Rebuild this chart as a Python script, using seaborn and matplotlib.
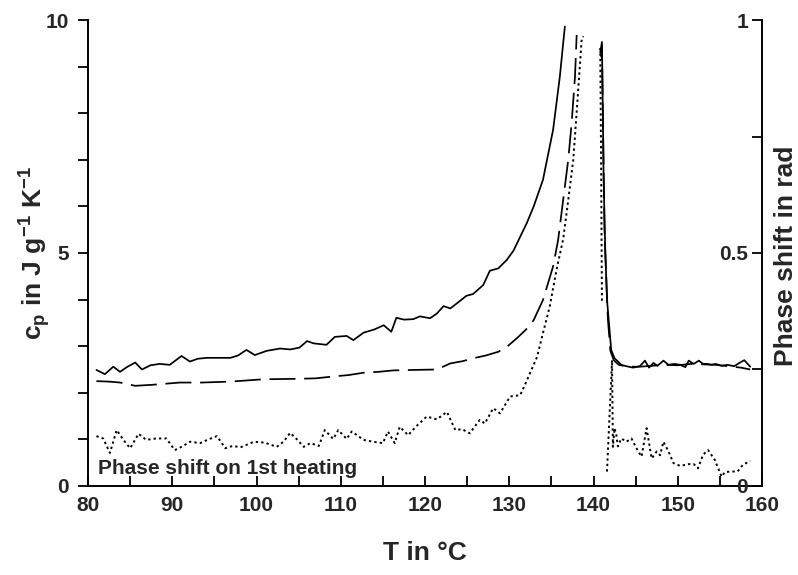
import numpy as np
import pandas as pd
import matplotlib
matplotlib.use("Agg")
import matplotlib.pyplot as plt
import seaborn as sns
from matplotlib.ticker import MultipleLocator, FixedLocator

# ---------------- data ----------------
# c_p, solid curve: rising branch and falling branch after the peak
solid_rise_T = [81.0, 82.0, 83.0, 83.8, 84.6, 85.6, 86.4, 87.4, 88.5, 89.7, 91.1, 92.1,
                93.0, 94.1, 95.5, 96.9, 97.8, 98.8, 99.8, 101.2, 102.8, 104.0, 105.1,
                106.0, 106.8, 108.3, 109.3, 110.7, 111.5, 112.7, 114.0, 115.1, 116.0,
                116.6, 117.5, 118.6, 119.4, 120.6, 121.4, 122.2, 123.0, 124.0, 124.9,
                125.7, 126.9, 127.7, 128.7, 129.7, 130.5, 131.3, 132.1, 132.9, 134.0,
                135.2, 136.0, 136.6]
solid_rise_cp = [2.49, 2.40, 2.56, 2.45, 2.55, 2.65, 2.50, 2.59, 2.62, 2.60, 2.79, 2.67,
                 2.73, 2.75, 2.75, 2.75, 2.80, 2.92, 2.81, 2.90, 2.95, 2.93, 2.97,
                 3.11, 3.06, 3.03, 3.20, 3.22, 3.13, 3.29, 3.36, 3.45, 3.31,
                 3.61, 3.57, 3.58, 3.64, 3.60, 3.70, 3.86, 3.81, 3.95, 4.08,
                 4.12, 4.31, 4.62, 4.67, 4.85, 5.05, 5.35, 5.65, 6.00, 6.57,
                 7.64, 8.78, 9.86]
solid_fall_T = [140.8, 141.0, 141.2, 141.4, 141.6, 141.9, 142.1, 142.5, 142.9, 143.3,
                143.9, 144.7, 145.5, 146.1, 146.6, 147.1, 147.6, 148.3, 148.9, 149.6,
                150.3, 150.9, 151.3, 151.9, 152.5, 153.0, 153.5, 154.0, 154.5, 155.2,
                155.9, 156.7, 157.3, 157.9, 158.6]
solid_fall_cp = [9.30, 9.53, 6.60, 5.00, 4.00, 3.35, 2.92, 2.74, 2.67, 2.60,
                 2.57, 2.54, 2.57, 2.69, 2.54, 2.64, 2.58, 2.69, 2.60, 2.62,
                 2.60, 2.55, 2.69, 2.62, 2.69, 2.62, 2.62, 2.60, 2.62, 2.58,
                 2.60, 2.57, 2.64, 2.70, 2.56]

# c_p, dashed curve
dash_rise_T = [81.0, 82.5, 83.8, 85.6, 87.5, 90.9, 93.5, 96.9, 100.8, 104.8, 107.0,
               109.1, 110.9, 112.7, 114.5, 116.2, 118.5, 121.4, 123.0, 124.5, 125.7,
               127.2, 128.7, 129.8, 130.9, 132.0, 132.9, 134.0, 135.2, 135.8, 136.4,
               137.0, 137.4, 137.8, 138.0]
dash_rise_cp = [2.25, 2.24, 2.22, 2.15, 2.17, 2.22, 2.22, 2.24, 2.29, 2.30, 2.31,
                2.35, 2.38, 2.43, 2.45, 2.48, 2.49, 2.50, 2.63, 2.68, 2.74,
                2.80, 2.88, 3.00, 3.17, 3.36, 3.56, 3.99, 4.71, 5.28, 6.14,
                7.00, 7.78, 8.78, 9.68]
dash_fall_T = [140.9, 141.0, 141.3, 141.7, 142.0, 142.4, 143.0, 144.0, 145.5, 147.0,
               148.5, 150.0, 151.5, 153.0, 154.5, 156.0, 157.5, 158.6]
dash_fall_cp = [9.20, 9.45, 5.50, 3.60, 2.90, 2.70, 2.60, 2.56, 2.56, 2.58,
                2.60, 2.59, 2.62, 2.61, 2.60, 2.57, 2.54, 2.50]

# phase shift (rad), dotted curve, three pieces
phase_rise_T = [81.0, 81.8, 82.6, 83.4, 84.2, 85.0, 86.0, 86.9, 88.1, 89.3, 90.3, 91.2,
                92.1, 93.3, 94.3, 95.3, 96.3, 97.2, 98.1, 99.7, 101.0, 102.4, 103.2,
                104.0, 104.8, 105.6, 106.4, 107.4, 108.1, 109.1, 109.7, 110.7, 111.3,
                112.7, 113.8, 115.0, 115.6, 116.4, 117.0, 118.0, 118.9, 120.2, 121.4,
                122.6, 123.6, 124.4, 125.3, 126.5, 127.1, 128.1, 128.9, 130.1, 131.3,
                132.1, 133.3, 134.0, 134.8, 135.6, 136.4, 136.8, 137.6, 138.1, 138.6,
                138.8]
phase_rise_rad = [0.107, 0.102, 0.071, 0.120, 0.099, 0.081, 0.112, 0.099, 0.102, 0.102,
                  0.077, 0.085, 0.095, 0.092, 0.100, 0.107, 0.081, 0.086, 0.083, 0.095,
                  0.093, 0.084, 0.095, 0.114, 0.100, 0.084, 0.092, 0.086, 0.120, 0.101,
                  0.120, 0.101, 0.117, 0.099, 0.095, 0.092, 0.117, 0.092, 0.127, 0.109,
                  0.127, 0.149, 0.143, 0.159, 0.120, 0.122, 0.113, 0.142, 0.134, 0.167,
                  0.156, 0.192, 0.195, 0.227, 0.277, 0.328, 0.385, 0.463, 0.530, 0.585,
                  0.700, 0.828, 0.960, 0.965]
phase_peak_T = [140.8, 140.9, 141.0]
phase_peak_rad = [0.940, 0.700, 0.396]
phase_fall_T = [141.6, 142.2, 142.3, 142.5, 142.7, 142.9, 143.3, 143.9, 144.5, 145.1,
                145.7, 146.3, 146.9, 147.5, 147.9, 148.3, 148.9, 149.5, 150.3, 151.3,
                151.9, 152.4, 153.0, 153.6, 154.4, 155.2, 155.6, 156.4, 157.1, 157.7,
                158.6]
phase_fall_rad = [0.031, 0.270, 0.084, 0.124, 0.110, 0.085, 0.102, 0.095, 0.102, 0.081,
                  0.063, 0.124, 0.059, 0.074, 0.066, 0.095, 0.074, 0.049, 0.043, 0.047,
                  0.047, 0.038, 0.067, 0.077, 0.056, 0.020, 0.030, 0.031, 0.031, 0.045,
                  0.054]

x_ticks = [80, 90, 100, 110, 120, 130, 140, 150, 160]
cp_ticks = [0, 5, 10]
phase_ticks = [0, 0.5, 1]
phase_tick_labels = ["0", "0.5", "1"]
annotation = "Phase shift on 1st heating"


def frame(Ts, vals, seg):
    return pd.DataFrame({"T": Ts, "v": vals, "seg": seg})


solid_df = pd.concat([frame(solid_rise_T, solid_rise_cp, "a"),
                      frame(solid_fall_T, solid_fall_cp, "b")])
dash_df = pd.concat([frame(dash_rise_T, dash_rise_cp, "a"),
                     frame(dash_fall_T, dash_fall_cp, "b")])
phase_df = pd.concat([frame(phase_rise_T, phase_rise_rad, "a"),
                      frame(phase_peak_T, phase_peak_rad, "b"),
                      frame(phase_fall_T, phase_fall_rad, "c")])

# ---------------- styling ----------------
sns.set_theme(style="white")
plt.rcParams["font.family"] = ["Liberation Sans", "DejaVu Sans"]
plt.rcParams["font.weight"] = "bold"
plt.rcParams["mathtext.fontset"] = "custom"
plt.rcParams["mathtext.rm"] = "Liberation Sans:bold"
plt.rcParams["mathtext.it"] = "Liberation Sans:bold"
plt.rcParams["mathtext.bf"] = "Liberation Sans:bold"
plt.rcParams["axes.linewidth"] = 1.4

fig = plt.figure(figsize=(7.98, 5.75), dpi=100)
ax = fig.add_axes([0.1103, 0.1548, 0.8446, 0.8104])
ax2 = ax.twinx()

lw = 1.25
sns.lineplot(data=solid_df, x="T", y="v", units="seg", estimator=None, sort=False,
             ax=ax, color="black", lw=lw)
sns.lineplot(data=dash_df, x="T", y="v", units="seg", estimator=None, sort=False,
             ax=ax, color="black", lw=lw, dashes=False)
for line in ax.lines[2:]:
    line.set_linestyle((0, (15, 5)))
sns.lineplot(data=phase_df, x="T", y="v", units="seg", estimator=None, sort=False,
             ax=ax2, color="black", lw=1.4)
for line in ax2.lines:
    line.set_linestyle((0, (1.2, 1.6)))

ax.set_xlim(80, 160)
ax.set_ylim(0, 10)
ax2.set_ylim(0, 1)

for s in ["top", "right"]:
    ax.spines[s].set_visible(False)
for s in ["top", "left", "bottom"]:
    ax2.spines[s].set_visible(False)
ax2.spines["right"].set_visible(True)
for s in ["left", "bottom"]:
    ax.spines[s].set_color("black")
ax2.spines["right"].set_color("black")

ax.xaxis.set_major_locator(FixedLocator(x_ticks))
ax.xaxis.set_minor_locator(MultipleLocator(5))
ax.yaxis.set_major_locator(FixedLocator(cp_ticks))
ax.yaxis.set_minor_locator(MultipleLocator(1))
ax.tick_params(axis="x", which="both", direction="in", length=7, width=1.3,
               color="black", bottom=True, labelsize=15, pad=7)
ax.tick_params(axis="y", which="both", direction="out", length=7, width=1.3,
               color="black", left=True, labelsize=15, pad=7)

ax2.yaxis.set_major_locator(FixedLocator(phase_ticks))
ax2.yaxis.set_minor_locator(MultipleLocator(0.25))
ax2.set_yticklabels(phase_tick_labels)
ax2.tick_params(axis="y", which="both", direction="in", length=7, width=1.3,
                color="black", right=True, labelsize=15, pad=-10)
for t in ax2.get_yticklabels():
    t.set_horizontalalignment("right")

for t in ax.get_xticklabels() + ax.get_yticklabels() + ax2.get_yticklabels():
    t.set_fontweight("bold")

ax.set_xlabel("T in °C", fontsize=19, fontweight="bold")
ax.xaxis.set_label_coords(0.5, -0.144)
ax.xaxis.label.set_va("center")
ax.set_ylabel(r"c$_\mathrm{p}$ in J g$^{\mathrm{-1}}$ K$^{\mathrm{-1}}$", fontsize=19,
              fontweight="bold")
ax.yaxis.set_label_coords(-0.079, 0.5)
ax.yaxis.label.set_va("center")
ax2.set_ylabel("Phase shift in rad", fontsize=19, fontweight="bold")
ax2.yaxis.set_label_coords(1.036, 0.495)
ax2.yaxis.label.set_va("center")

ax.text(81.2, 0.18, annotation, fontsize=15, fontweight="bold", va="bottom",
        ha="left")

fig.savefig("out.png", dpi=100)
